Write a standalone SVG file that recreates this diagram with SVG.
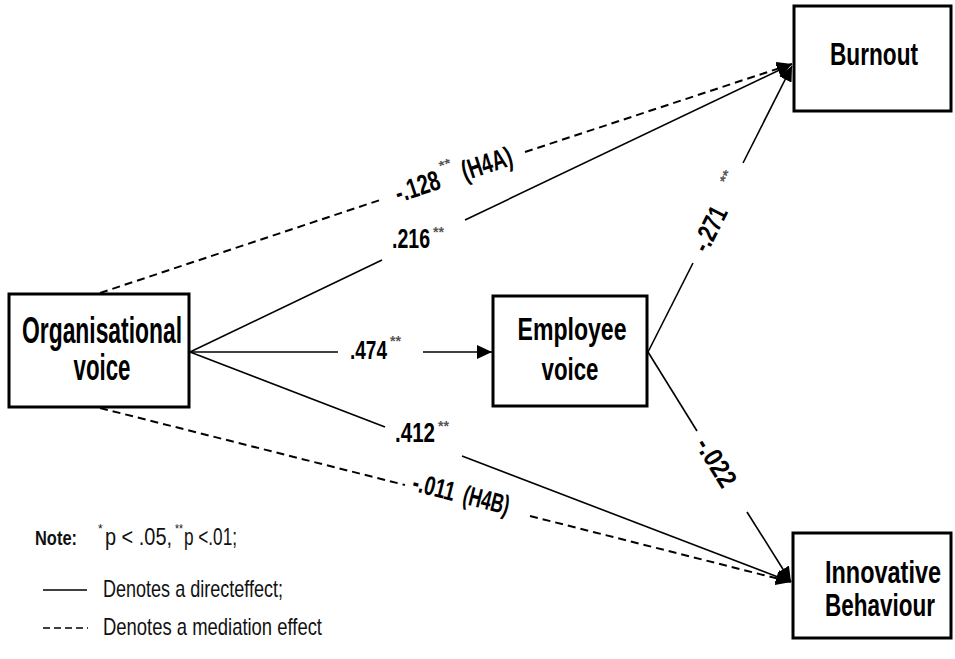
<svg xmlns="http://www.w3.org/2000/svg" width="955" height="659" viewBox="0 0 955 659">
<style>
.box{fill:#fff;stroke:#000;stroke-width:3}
.nt{font-family:"Liberation Sans",Arial,sans-serif;font-weight:bold;fill:#000;text-anchor:middle}
.ln{stroke:#000;stroke-width:1.6;fill:none}
.dl{stroke:#000;stroke-width:2;fill:none;stroke-dasharray:8 5}
.lb{font-family:"Liberation Sans",Arial,sans-serif;font-weight:bold;fill:#000}
.st{font-family:"Liberation Sans",Arial,sans-serif;font-weight:bold;font-size:14px;fill:#555}
.lg{font-family:"Liberation Sans",Arial,sans-serif;fill:#111}
</style>
<defs>
<marker id="ah" markerUnits="userSpaceOnUse" markerWidth="16" markerHeight="14" refX="15" refY="7" orient="auto">
<path d="M0,0 L15,7 L0,14 z" fill="#000"/>
</marker>
</defs>
<rect width="955" height="659" fill="#fff"/>
<g id="connectors">
<line class="dl" x1="100" y1="293" x2="383" y2="199"/>
<line class="dl" x1="525" y1="152" x2="792" y2="64" marker-end="url(#ah)"/>
<line class="ln" x1="190" y1="352" x2="382" y2="260"/>
<line class="ln" x1="465" y1="220" x2="792" y2="64" marker-end="url(#ah)"/>
<line class="ln" x1="190" y1="352" x2="338" y2="352"/>
<line class="ln" x1="423" y1="352" x2="492" y2="352" marker-end="url(#ah)"/>
<line class="ln" x1="190" y1="352" x2="385" y2="427"/>
<line class="ln" x1="462" y1="456" x2="791" y2="582" marker-end="url(#ah)"/>
<line class="dl" x1="100" y1="408" x2="405" y2="485"/>
<line class="dl" x1="530" y1="516" x2="791" y2="582" marker-end="url(#ah)"/>
<line class="ln" x1="648" y1="352" x2="693" y2="263"/>
<line class="ln" x1="743" y1="163" x2="792" y2="66" marker-end="url(#ah)"/>
<line class="ln" x1="648" y1="352" x2="697" y2="431"/>
<line class="ln" x1="747" y1="512" x2="791" y2="582" marker-end="url(#ah)"/>
</g>
<g id="labels">
<g transform="translate(454,176) rotate(-18.3)">
<text class="lb" x="-61" y="8" font-size="28"><tspan textLength="46" lengthAdjust="spacingAndGlyphs">-.128</tspan><tspan class="st" x="-11" y="-9" textLength="12" lengthAdjust="spacingAndGlyphs">**</tspan><tspan x="9" y="8" textLength="52" lengthAdjust="spacingAndGlyphs">(H4A)</tspan></text>
</g>
<text class="lb" x="392" y="248" font-size="28"><tspan textLength="38" lengthAdjust="spacingAndGlyphs">.216</tspan><tspan class="st" x="433" y="237" textLength="11" lengthAdjust="spacingAndGlyphs">**</tspan></text>
<text class="lb" x="350" y="359" font-size="26"><tspan textLength="37" lengthAdjust="spacingAndGlyphs">.474</tspan><tspan class="st" x="390" y="346" textLength="11" lengthAdjust="spacingAndGlyphs">**</tspan></text>
<text class="lb" x="395" y="442" font-size="27"><tspan textLength="40" lengthAdjust="spacingAndGlyphs">.412</tspan><tspan class="st" x="438" y="431" textLength="11" lengthAdjust="spacingAndGlyphs">**</tspan></text>
<g transform="translate(459.5,498.6) rotate(14.1)">
<text class="lb" x="-49" y="4" font-size="27"><tspan textLength="43" lengthAdjust="spacingAndGlyphs">-.011</tspan><tspan x="3" textLength="47" lengthAdjust="spacingAndGlyphs">(H4B)</tspan></text>
</g>
<g transform="translate(718,212.5) rotate(-63.4)">
<text class="lb" x="-42" y="9" font-size="27"><tspan textLength="47" lengthAdjust="spacingAndGlyphs">-.271</tspan><tspan class="st" x="29" y="-4" textLength="13" lengthAdjust="spacingAndGlyphs">**</tspan></text>
</g>
<g transform="translate(716.4,462.8) rotate(58.3)">
<text class="lb" x="-27" y="9" font-size="27" textLength="53" lengthAdjust="spacingAndGlyphs">-.022</text>
</g>
</g>
<g id="org">
<rect class="box" x="9" y="294" width="180" height="113"/>
<text class="nt" x="102" y="343" font-size="36" textLength="160" lengthAdjust="spacingAndGlyphs">Organisational</text>
<text class="nt" x="102" y="380" font-size="36" textLength="57" lengthAdjust="spacingAndGlyphs">voice</text>
</g>
<g id="employee">
<rect class="box" x="493" y="296" width="154" height="110"/>
<text class="nt" x="572" y="340" font-size="31" textLength="109" lengthAdjust="spacingAndGlyphs">Employee</text>
<text class="nt" x="570" y="380" font-size="31" textLength="57" lengthAdjust="spacingAndGlyphs">voice</text>
</g>
<g id="burnout">
<rect class="box" x="794" y="6" width="157" height="105"/>
<text class="nt" x="874" y="65" font-size="31" textLength="88" lengthAdjust="spacingAndGlyphs">Burnout</text>
</g>
<g id="innovative">
<rect class="box" x="793" y="533" width="158" height="105"/>
<text class="nt" x="883" y="583" font-size="31" textLength="116" lengthAdjust="spacingAndGlyphs">Innovative</text>
<text class="nt" x="880" y="616" font-size="31" textLength="110" lengthAdjust="spacingAndGlyphs">Behaviour</text>
</g>
<g id="legend">
<text class="lg" x="35" y="545" font-size="21" font-weight="bold" textLength="42" lengthAdjust="spacingAndGlyphs">Note:</text>
<text class="lg" x="98" y="533" font-size="12">*<tspan x="105" y="545" font-size="23" textLength="67" lengthAdjust="spacingAndGlyphs">p &lt; .05,</tspan><tspan x="175" y="533" textLength="8" lengthAdjust="spacingAndGlyphs">**</tspan><tspan x="184" y="545" font-size="23" textLength="53" lengthAdjust="spacingAndGlyphs">p &lt;.01;</tspan></text>
<line class="ln" x1="43" y1="590" x2="87" y2="590"/>
<text class="lg" x="103" y="597" font-size="24" textLength="180" lengthAdjust="spacingAndGlyphs">Denotes a directeffect;</text>
<line x1="43" y1="628" x2="88" y2="628" stroke="#000" stroke-width="1.6" stroke-dasharray="7 4"/>
<text class="lg" x="103" y="635" font-size="24" textLength="219" lengthAdjust="spacingAndGlyphs">Denotes a mediation effect</text>
</g>
</svg>
